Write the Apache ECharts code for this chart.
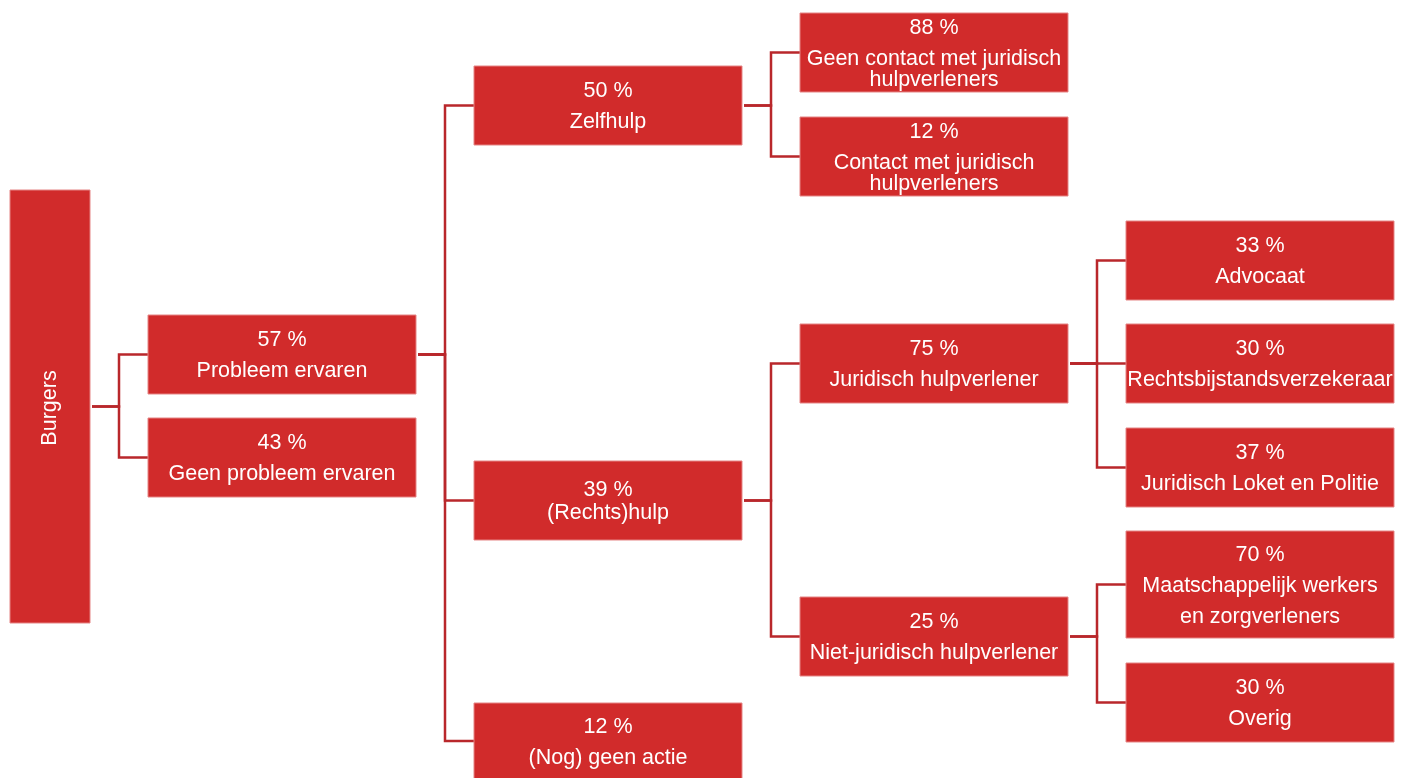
<!DOCTYPE html>
<html>
<head>
<meta charset="utf-8">
<script src="https://cdn.jsdelivr.net/npm/echarts@6/dist/echarts.min.js"></script>
<style>
  html, body { margin: 0; padding: 0; background: #fff; }
  #chart1 { width: 1407px; height: 778px; }
</style>
</head>
<body>
<div id="chart1"></div>
<script>
// tree data
const nodeNames = ['Burgers', 'Probleem ervaren', 'Geen probleem ervaren', 'Zelfhulp', '(Rechts)hulp',
    '(Nog) geen actie', 'Geen contact met juridisch\nhulpverleners', 'Contact met juridisch\nhulpverleners',
    'Juridisch hulpverlener', 'Niet-juridisch hulpverlener', 'Advocaat', 'Rechtsbijstandsverzekeraar',
    'Juridisch Loket en Politie', 'Maatschappelijk werkers\nen zorgverleners', 'Overig'];
const nodePct = [null, 57, 43, 50, 39, 12, 88, 12, 75, 25, 33, 30, 37, 70, 30];
const nodeParent = [-1, 0, 0, 1, 1, 1, 3, 3, 4, 4, 8, 8, 8, 9, 9];
const nodeLevel = [0, 1, 1, 2, 2, 2, 3, 3, 3, 3, 4, 4, 4, 4, 4];

// layout (axis units = pixels)
const boxTop = [190, 315, 418, 66, 461, 703, 13, 117, 324, 597, 221, 324, 428, 531, 663];
const boxBottom = [623, 394, 497, 145, 540, 779, 92, 196, 403, 676, 300, 403, 507, 638, 742];
const levelLeft = [10, 148, 474, 800, 1126];
const levelRight = [90, 416, 742, 1068, 1394];
const pctGap = [0, 31, 31, 31, 23, 31, 31, 31, 31, 31, 31, 31, 31, 31, 31];
const lineGap = [0, 31, 31, 31, 31, 31, 21, 21, 31, 31, 31, 31, 31, 31, 31];

const boxColor = '#d12b2b';
const lineColor = '#b9272b';
const font = '21.5px "Liberation Sans", Arial, sans-serif';

let myChart = echarts.init(document.getElementById('chart1'));

const boxData = nodeNames.map((n, i) => [levelLeft[nodeLevel[i]], boxTop[i], levelRight[nodeLevel[i]], boxBottom[i], i]);
const linkData = [];
nodeParent.forEach((p, i) => {
    if (p < 0) return;
    const pl = nodeLevel[p], cl = nodeLevel[i];
    linkData.push([
        levelRight[pl] + 2, (boxTop[p] + boxBottom[p]) / 2,
        levelLeft[cl] - 29, (boxTop[i] + boxBottom[i]) / 2,
        levelLeft[cl]
    ]);
});

const option = {
    animation: false,
    grid: { left: 0, right: 0, top: 0, bottom: 0 },
    xAxis: { type: 'value', min: 0, max: 1407, show: false },
    yAxis: { type: 'value', min: 0, max: 778, inverse: true, show: false },
    series: [{
        type: 'custom',
        clip: false,
        data: linkData,
        renderItem: function (params, api) {
            const a = api.coord([api.value(0), api.value(1)]);
            const e1 = api.coord([api.value(2), api.value(1)]);
            const e2 = api.coord([api.value(2), api.value(3)]);
            const b = api.coord([api.value(4), api.value(3)]);
            return {
                type: 'polyline',
                shape: { points: [a, e1, e2, b] },
                style: { stroke: lineColor, lineWidth: 2.5, fill: null }
            };
        }
    }, {
        type: 'custom',
        clip: false,
        data: boxData,
        renderItem: function (params, api) {
            const i = api.value(4);
            const p0 = api.coord([api.value(0), api.value(1)]);
            const p1 = api.coord([api.value(2), api.value(3)]);
            const cx = (p0[0] + p1[0]) / 2;
            const cy = (p0[1] + p1[1]) / 2 + 1.5;
            const children = [{
                type: 'rect',
                shape: { x: p0[0], y: p0[1], width: p1[0] - p0[0], height: p1[1] - p0[1] },
                style: { fill: boxColor, stroke: '#e58585', lineWidth: 1 }
            }];
            if (nodePct[i] == null) {
                children.push({
                    type: 'text', x: cx, y: cy, rotation: Math.PI / 2,
                    style: { x: 0, y: 0, text: nodeNames[i], fill: '#fff', font: font,
                        align: 'center', verticalAlign: 'middle' }
                });
            } else {
                const lines = [nodePct[i] + ' %'].concat(nodeNames[i].split('\n'));
                const offs = [0];
                for (let k = 1; k < lines.length; k++) offs.push(offs[k - 1] + (k === 1 ? pctGap[i] : lineGap[i]));
                const start = cy - offs[offs.length - 1] / 2;
                lines.forEach((t, k) => {
                    children.push({
                        type: 'text',
                        style: { x: cx, y: start + offs[k], text: t, fill: '#fff', font: font,
                            align: 'center', verticalAlign: 'middle' }
                    });
                });
            }
            return { type: 'group', children: children };
        }
    }]
};
myChart.setOption(option);
</script>
</body>
</html>
